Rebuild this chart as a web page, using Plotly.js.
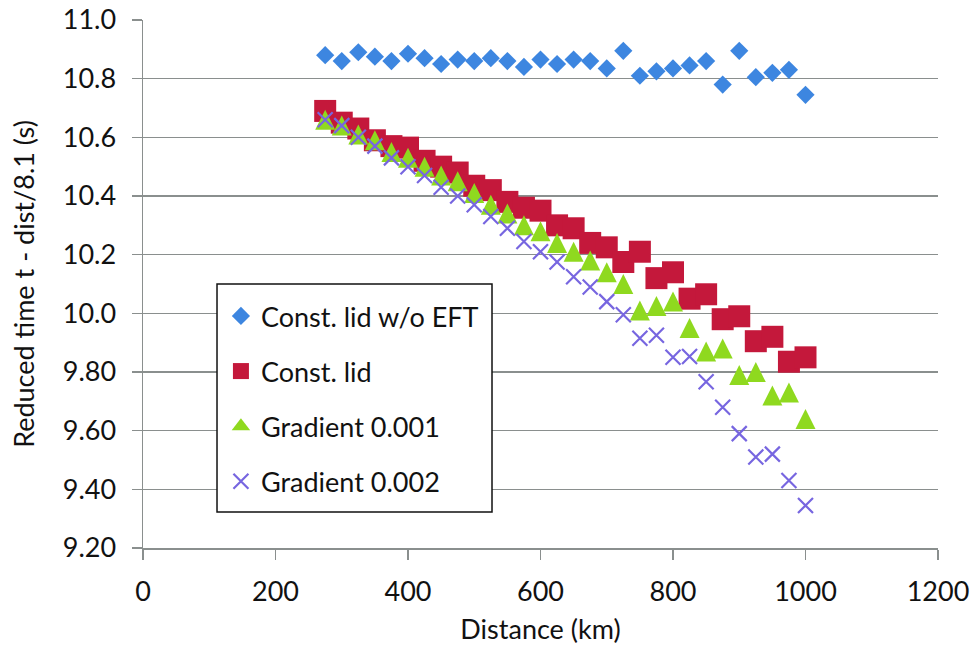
<!DOCTYPE html>
<html>
<head>
<meta charset="utf-8">
<script src="https://cdn.plot.ly/plotly-3.0.1.min.js"></script>
<style>html,body{margin:0;padding:0;background:#fff;}#chart{width:974px;height:648px;}</style>
</head>
<body>
<div id="chart"></div>
<script>
// Distance (km)
const distance = [275, 300, 325, 350, 375, 400, 425, 450, 475, 500,
                  525, 550, 575, 600, 625, 650, 675, 700, 725, 750,
                  775, 800, 825, 850, 875, 900, 925, 950, 975, 1000];

// Reduced time t - dist/8.1 (s)
const constLidNoEFT = [10.88, 10.86, 10.89, 10.875, 10.86, 10.885, 10.87, 10.85, 10.865, 10.86,
                       10.87, 10.86, 10.84, 10.865, 10.85, 10.865, 10.86, 10.835, 10.895, 10.81,
                       10.825, 10.835, 10.845, 10.86, 10.78, 10.895, 10.805, 10.82, 10.83, 10.745];
const constLid = [10.69, 10.65, 10.63, 10.59, 10.57, 10.565, 10.52, 10.50, 10.48, 10.435,
                  10.42, 10.38, 10.36, 10.35, 10.30, 10.29, 10.24, 10.225, 10.175, 10.21,
                  10.12, 10.14, 10.05, 10.065, 9.98, 9.99, 9.905, 9.92, 9.835, 9.85];
const gradient001 = [10.66, 10.64, 10.61, 10.59, 10.55, 10.53, 10.50, 10.47, 10.45, 10.41,
                     10.37, 10.34, 10.30, 10.28, 10.24, 10.21, 10.18, 10.14, 10.10, 10.01,
                     10.025, 10.04, 9.95, 9.87, 9.88, 9.79, 9.80, 9.72, 9.73, 9.64];
const gradient002 = [10.66, 10.64, 10.60, 10.57, 10.53, 10.50, 10.47, 10.43, 10.40, 10.37,
                     10.33, 10.29, 10.245, 10.21, 10.175, 10.125, 10.09, 10.04, 9.995, 9.915,
                     9.925, 9.85, 9.853, 9.767, 9.68, 9.59, 9.51, 9.52, 9.43, 9.345];

const seriesNames = ["Const. lid w/o EFT", "Const. lid", "Gradient 0.001", "Gradient 0.002"];

const yTickVals = [9.2, 9.4, 9.6, 9.8, 10.0, 10.2, 10.4, 10.6, 10.8, 11.0];
const yTickText = ["9.20", "9.40", "9.60", "9.80", "10.0", "10.2", "10.4", "10.6", "10.8", "11.0"];
const xTickVals = [0, 200, 400, 600, 800, 1000, 1200];

const FONT = "Lato, 'Open Sans', sans-serif";
const AXIS_GREY = "#8a8f8e";
const TXT = "#111";
const GREEN = "#8fd91f";

const traces = [
  {x: distance, y: constLidNoEFT, name: seriesNames[0], legendgroup: "a",
   marker: {symbol: "diamond", size: 14, color: "#3d86e0"}},
  {x: distance, y: constLid, name: seriesNames[1], legendgroup: "b",
   marker: {symbol: "square", size: 22, color: "#c4183b"}},
  // plotted triangles (apex-anchored arrow shape shifted so the triangle is centred on the point)
  {x: distance, y: gradient001, name: seriesNames[2], legendgroup: "c", showlegend: false,
   marker: {symbol: "arrow-down", angle: 180, size: 20, standoff: 10, color: GREEN}},
  // legend entry for the triangles (no data)
  {x: [null], y: [null], name: seriesNames[2], legendgroup: "c", showlegend: true,
   marker: {symbol: "triangle-up", size: 16, color: GREEN}},
  {x: distance, y: gradient002, name: seriesNames[3], legendgroup: "d",
   marker: {symbol: "x-thin-open", size: 15, color: "#7766e0", line: {width: 2.2, color: "#7766e0"}}}
].map(t => Object.assign({type: "scatter", mode: "markers", hoverinfo: "x+y"}, t));

const layout = {
  width: 974, height: 648,
  paper_bgcolor: "#fff", plot_bgcolor: "#fff",
  margin: {l: 143, r: 36, t: 20, b: 100, pad: 0},
  font: {family: FONT, size: 27, color: TXT},
  showlegend: true,
  legend: {
    x: 0.093, y: 0.485, xanchor: "left", yanchor: "top",
    bgcolor: "rgba(0,0,0,0)", borderwidth: 0,
    font: {family: FONT, size: 27, color: TXT},
    tracegroupgap: 17, traceorder: "grouped", indentation: 4
  },
  shapes: [{
    type: "rect", xref: "paper", yref: "paper", layer: "above",
    x0: 0.0931, x1: 0.439, y0: 0.068, y1: 0.5,
    fillcolor: "#fff", line: {color: TXT, width: 1.5}
  }],
  xaxis: {
    range: [0, 1200], tickvals: xTickVals, ticktext: xTickVals.map(String),
    showgrid: false, zeroline: false,
    showline: true, linecolor: AXIS_GREY, linewidth: 1.5,
    ticks: "outside", ticklen: 10, tickwidth: 1.5, tickcolor: AXIS_GREY,
    ticklabelstandoff: 9,
    tickfont: {family: FONT, size: 27, color: TXT},
    title: {text: "Distance (km)", font: {family: FONT, size: 27, color: TXT}, standoff: 14},
    automargin: false, fixedrange: true
  },
  yaxis: {
    range: [9.2, 11.0], tickvals: yTickVals, ticktext: yTickText,
    showgrid: true, gridcolor: AXIS_GREY, gridwidth: 1.5, zeroline: false,
    showline: true, linecolor: AXIS_GREY, linewidth: 1.5,
    ticks: "outside", ticklen: 10, tickwidth: 1.5, tickcolor: AXIS_GREY,
    ticklabelstandoff: 10,
    tickfont: {family: FONT, size: 27, color: TXT},
    title: {text: "Reduced time t - dist/8.1 (s)", font: {family: FONT, size: 27, color: TXT}, standoff: 20},
    automargin: false, fixedrange: true
  }
};

Plotly.newPlot("chart", traces, layout, {displayModeBar: false, staticPlot: true});
</script>
</body>
</html>
